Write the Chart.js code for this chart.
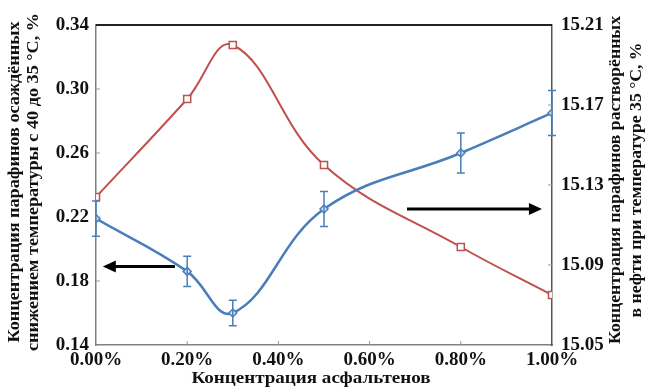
<!DOCTYPE html>
<html>
<head>
<meta charset="utf-8">
<script src="https://cdn.jsdelivr.net/npm/chart.js@4.4.1/dist/chart.umd.min.js"></script>
<style>
  html, body { margin: 0; padding: 0; background: #fff; }
  #wrap { width: 649px; height: 392px; }
</style>
</head>
<body>
<div id="wrap"><canvas id="chart" width="649" height="392"></canvas></div>
<script>
// asphaltene concentration, %
const asphaltenes = [0.0, 0.2, 0.3, 0.5, 0.8, 1.0];
// precipitated paraffins (left axis) with error bars
const precipitated = [0.219, 0.186, 0.160, 0.225, 0.260, 0.285];
const precipitatedErr = [0.011, 0.0095, 0.008, 0.011, 0.0125, 0.014];
// dissolved paraffins (right axis)
const dissolved = [15.124, 15.173, 15.200, 15.140, 15.099, 15.075];

const xTicks = [0, 0.2, 0.4, 0.6, 0.8, 1.0];
const leftTicks = [0.14, 0.18, 0.22, 0.26, 0.30, 0.34];
const rightTicks = [15.05, 15.09, 15.13, 15.17, 15.21];

const FONT = "'Liberation Serif', 'Times New Roman', serif";
const BLUE = '#4a7ebb';
const RED = '#c0504d';

const extras = {
    id: 'extras',
    afterDatasetsDraw(chart) {
        const ctx = chart.ctx;
        const x = chart.scales.x, yl = chart.scales.y, area = chart.chartArea;

        // error bars
        ctx.save();
        ctx.strokeStyle = BLUE;
        ctx.lineWidth = 1.5;
        asphaltenes.forEach((v, i) => {
            const px = x.getPixelForValue(v);
            const top = yl.getPixelForValue(precipitated[i] + precipitatedErr[i]);
            const bot = yl.getPixelForValue(precipitated[i] - precipitatedErr[i]);
            ctx.beginPath();
            ctx.moveTo(px, top); ctx.lineTo(px, bot);
            ctx.moveTo(px - 4, top); ctx.lineTo(px + 4, top);
            ctx.moveTo(px - 4, bot); ctx.lineTo(px + 4, bot);
            ctx.stroke();
        });
        ctx.restore();

        // arrows pointing at the axis each series belongs to
        const arrow = (x0, x1, yv) => {
            const a = x.getPixelForValue(x0), b = x.getPixelForValue(x1);
            const py = yl.getPixelForValue(yv);
            const dir = Math.sign(b - a);
            ctx.save();
            ctx.strokeStyle = '#000';
            ctx.fillStyle = '#000';
            ctx.lineWidth = 3;
            ctx.beginPath();
            ctx.moveTo(a, py); ctx.lineTo(b - dir * 10, py);
            ctx.stroke();
            ctx.beginPath();
            ctx.moveTo(b, py);
            ctx.lineTo(b - dir * 13, py - 6);
            ctx.lineTo(b - dir * 13, py + 6);
            ctx.closePath();
            ctx.fill();
            ctx.restore();
        };
        arrow(0.173, 0.015, 0.189);
        arrow(0.682, 0.978, 0.225);

        // frame top and inner tick marks
        ctx.save();
        ctx.strokeStyle = '#222';
        ctx.lineWidth = 2;
        ctx.beginPath();
        ctx.moveTo(area.left, area.top); ctx.lineTo(area.right, area.top);
        ctx.stroke();
        ctx.strokeStyle = '#999';
        ctx.lineWidth = 1;
        ctx.beginPath();
        xTicks.slice(1, -1).forEach(v => {
            const px = x.getPixelForValue(v);
            ctx.moveTo(px, area.bottom); ctx.lineTo(px, area.bottom - 4);
        });
        leftTicks.slice(1, -1).forEach(v => {
            const py = yl.getPixelForValue(v);
            ctx.moveTo(area.left, py); ctx.lineTo(area.left + 4, py);
        });
        rightTicks.slice(1, -1).forEach(v => {
            const py = chart.scales.y1.getPixelForValue(v);
            ctx.moveTo(area.right, py); ctx.lineTo(area.right - 4, py);
        });
        ctx.stroke();
        ctx.restore();
    },
    afterDraw(chart) {
        const ctx = chart.ctx;
        ctx.save();
        ctx.fillStyle = '#111';
        ctx.font = 'bold 17px ' + FONT;
        ctx.textAlign = 'center';
        ctx.textBaseline = 'middle';
        ctx.save();
        ctx.translate(311, 379);
        ctx.scale(1.12, 1);
        ctx.fillText('Концентрация асфальтенов', 0, 0);
        ctx.restore();

        const vtext = (lines, xs, cy, sx) => {
            lines.forEach((t, i) => {
                ctx.save();
                ctx.translate(xs[i], cy);
                ctx.rotate(-Math.PI / 2);
                ctx.scale(sx, 1);
                ctx.fillText(t, 0, 0);
                ctx.restore();
            });
        };
        vtext(['Концентрация парафинов осаждённых',
               'снижением температуры с 40 до 35 °C, %'], [15, 34], 182, 1.07);
        vtext(['Концентрация парафинов растворённых',
               'в нефти при температуре 35 °C, %'], [616, 637], 180, 1.04);
        ctx.restore();
    }
};

new Chart(document.getElementById('chart').getContext('2d'), {
    type: 'line',
    data: {
        datasets: [{
            label: 'Осаждённые',
            data: asphaltenes.map((v, i) => ({ x: v, y: precipitated[i] })),
            yAxisID: 'y',
            borderColor: BLUE,
            borderWidth: 2.5,
            backgroundColor: '#dbe6f3',
            pointStyle: 'rectRot',
            pointRadius: 4,
            pointBorderWidth: 1.5,
            pointBorderColor: BLUE,
            tension: 0.4,
            order: 1
        }, {
            label: 'Растворённые',
            data: asphaltenes.map((v, i) => ({ x: v, y: dissolved[i] })),
            yAxisID: 'y1',
            borderColor: RED,
            borderWidth: 2,
            backgroundColor: '#fff',
            pointStyle: 'rect',
            pointRadius: 5,
            pointBorderWidth: 1.5,
            pointBorderColor: RED,
            tension: 0.4,
            order: 2
        }]
    },
    options: {
        responsive: false,
        animation: false,
        layout: { padding: { top: 25, left: 0, right: 0, bottom: 0 } },
        plugins: { legend: { display: false }, tooltip: { enabled: false } },
        scales: {
            x: {
                type: 'linear',
                min: 0, max: 1,
                afterBuildTicks: s => { s.ticks = xTicks.map(v => ({ value: v })); },
                afterFit: s => { s.height = 47; },
                grid: { display: false, drawTicks: false },
                border: { color: '#808080', width: 1.5 },
                ticks: {
                    padding: 4,
                    color: '#111',
                    font: { family: FONT, size: 19, weight: 'bold' },
                    callback: v => v.toFixed(2) + '%'
                }
            },
            y: {
                position: 'left',
                min: 0.14, max: 0.34,
                afterBuildTicks: s => { s.ticks = leftTicks.map(v => ({ value: v })); },
                afterFit: s => { s.width = 96; },
                grid: { display: false, drawTicks: false },
                border: { color: '#808080', width: 1.5 },
                ticks: {
                    padding: 7,
                    color: '#111',
                    font: { family: FONT, size: 19, weight: 'bold' },
                    callback: v => v.toFixed(2)
                }
            },
            y1: {
                position: 'right',
                min: 15.05, max: 15.21,
                afterBuildTicks: s => { s.ticks = rightTicks.map(v => ({ value: v })); },
                afterFit: s => { s.width = 97; },
                grid: { display: false, drawTicks: false },
                border: { color: '#555', width: 1.5 },
                ticks: {
                    padding: 9,
                    color: '#111',
                    font: { family: FONT, size: 19, weight: 'bold' },
                    callback: v => v.toFixed(2)
                }
            }
        }
    },
    plugins: [extras]
});
</script>
</body>
</html>
